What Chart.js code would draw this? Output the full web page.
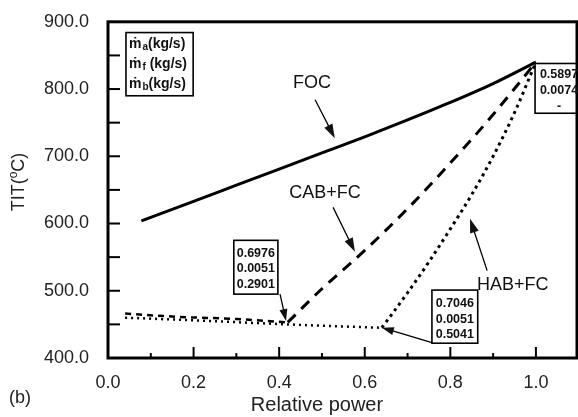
<!DOCTYPE html>
<html lang="en">
<head>
    <meta charset="UTF-8">
    <title>TIT vs relative power</title>
    <script src="https://cdn.jsdelivr.net/npm/chart.js"></script>
    <style>
        html, body { margin: 0; padding: 0; background: #fff; }
        #wrap { width: 578px; height: 417px; }
    </style>
</head>
<body>
    <div id="wrap"><canvas id="myChart" width="578" height="417"></canvas></div>
<script>
    // values
    const focX = [0.078, 0.2, 0.3, 0.4, 0.5, 0.6, 0.7, 0.8, 0.9, 1.0]
    const focY = [604, 633, 657, 681, 705, 729, 754, 780, 808, 840]

    const cabLowX = [0.04, 0.17, 0.3, 0.42]
    const cabLowY = [466, 461, 458, 453]
    const cabHighX = [0.42, 0.5, 0.6, 0.7, 0.8, 0.9, 1.0]
    const cabHighY = [453, 503, 560, 622, 690, 762, 840]

    const habLowX = [0.04, 0.2, 0.42, 0.5, 0.64]
    const habLowY = [460, 456, 450, 448, 445]
    const habHighX = [0.64, 0.7, 0.75, 0.8, 0.85, 0.9, 0.95, 1.0]
    const habHighY = [445, 497, 543, 592, 643, 700, 765, 840]

    const xTicks = [0, 0.2, 0.4, 0.6, 0.8, 1.0]
    const yTicks = [400, 500, 600, 700, 800, 900]

    const boxCAB = ['0.6976', '0.0051', '0.2901']
    const boxHAB = ['0.7046', '0.0051', '0.5041']
    const boxFOC = ['0.5897', '0.0074', '-']
    const legendRows = [['a', '(kg/s)'], ['f', ' (kg/s)'], ['b', '(kg/s)']]

    function pts(xs, ys) {
        return xs.map((v, i) => ({ x: v, y: ys[i] }))
    }

    function arrow(ctx, x1, y1, x2, y2, len, w) {
        const ang = Math.atan2(y2 - y1, x2 - x1)
        ctx.beginPath()
        ctx.moveTo(x1, y1)
        ctx.lineTo(x2 - Math.cos(ang) * len * 0.8, y2 - Math.sin(ang) * len * 0.8)
        ctx.stroke()
        ctx.beginPath()
        ctx.moveTo(x2, y2)
        ctx.lineTo(x2 - Math.cos(ang) * len - Math.sin(ang) * w, y2 - Math.sin(ang) * len + Math.cos(ang) * w)
        ctx.lineTo(x2 - Math.cos(ang) * len + Math.sin(ang) * w, y2 - Math.sin(ang) * len - Math.cos(ang) * w)
        ctx.closePath()
        ctx.fill()
    }

    function valueBox(ctx, x, y, b, rows, offs) {
        const l = x.getPixelForValue(b[0]), r = x.getPixelForValue(b[1])
        const t = y.getPixelForValue(b[2]), btm = y.getPixelForValue(b[3])
        ctx.lineWidth = 1.6
        ctx.strokeRect(l, t, r - l, btm - t)
        ctx.font = 'bold 12.5px "Liberation Sans", Arial, sans-serif'
        ctx.textAlign = 'center'
        ctx.textBaseline = 'middle'
        rows.forEach((s, i) => ctx.fillText(s, (l + r) / 2, t + offs[i]))
    }

    const decor = {
        id: 'decor',
        afterDraw(chart) {
            const { ctx, chartArea: a, scales: { x, y } } = chart
            ctx.save()
            ctx.strokeStyle = '#000'
            ctx.fillStyle = '#111'

            // frame
            ctx.lineWidth = 3
            ctx.strokeRect(a.left, a.top, a.right - a.left, a.bottom - a.top)

            // inward ticks
            ctx.lineWidth = 2
            for (let v = 450; v < 900; v += 50) {
                const py = y.getPixelForValue(v)
                ctx.beginPath(); ctx.moveTo(a.left, py); ctx.lineTo(a.left + 12, py); ctx.stroke()
            }
            for (let k = 1; k <= 10; k++) {
                const px = x.getPixelForValue(k / 10)
                const len = k % 2 === 0 ? 11 : 5
                ctx.beginPath(); ctx.moveTo(px, a.bottom); ctx.lineTo(px, a.bottom - len); ctx.stroke()
            }

            // legend box of mass flows
            const lb = [0.042, 0.199, 884, 790]
            const ll = x.getPixelForValue(lb[0]), lr = x.getPixelForValue(lb[1])
            const lt = y.getPixelForValue(lb[2]), lbm = y.getPixelForValue(lb[3])
            ctx.lineWidth = 1.6
            ctx.strokeRect(ll, lt, lr - ll, lbm - lt)
            ctx.textAlign = 'left'
            ctx.textBaseline = 'middle'
            legendRows.forEach((row, i) => {
                const ty = lt + 12 + i * 20
                let tx = ll + 3
                ctx.font = 'bold 14px "Liberation Sans", "DejaVu Sans", Arial, sans-serif'
                ctx.fillText('\u1E41', tx, ty)
                tx += ctx.measureText('\u1E41').width + 1
                ctx.font = 'bold 10px "Liberation Sans", Arial, sans-serif'
                ctx.fillText(row[0], tx, ty + 3)
                tx += ctx.measureText(row[0]).width
                ctx.font = 'bold 14px "Liberation Sans", Arial, sans-serif'
                ctx.fillText(row[1], tx, ty)
            })

            // value boxes
            valueBox(ctx, x, y, [0.294, 0.397, 575, 495], boxCAB, [13, 28.5, 44])
            valueBox(ctx, x, y, [0.757, 0.864, 501, 422], boxHAB, [13.5, 29, 44.5])
            valueBox(ctx, x, y, [0.998, 1.11, 838, 764], boxFOC, [11, 27, 43])

            // curve labels
            ctx.font = '18px "Liberation Sans", Arial, sans-serif'
            ctx.textAlign = 'center'
            ctx.fillText('FOC', x.getPixelForValue(0.477), y.getPixelForValue(809))
            ctx.fillText('CAB+FC', x.getPixelForValue(0.507), y.getPixelForValue(646))
            ctx.fillText('HAB+FC', x.getPixelForValue(0.946), y.getPixelForValue(508))

            // arrows
            ctx.lineWidth = 1.3
            const arr = [
                [0.484, 784, 0.530, 727, 14, 4.5],
                [0.526, 624, 0.577, 558, 14, 4.5],
                [0.886, 530, 0.846, 607, 14, 4.5],
                [0.402, 495, 0.416, 455, 12, 4],
                [0.757, 423, 0.640, 445, 12, 4]
            ]
            arr.forEach(q => arrow(ctx, x.getPixelForValue(q[0]), y.getPixelForValue(q[1]),
                x.getPixelForValue(q[2]), y.getPixelForValue(q[3]), q[4], q[5]))

            // axis titles
            ctx.fillStyle = '#222'
            ctx.font = '20px "Liberation Sans", Arial, sans-serif'
            ctx.textAlign = 'center'
            ctx.textBaseline = 'alphabetic'
            ctx.fillText('Relative power', 317, 411)
            ctx.textAlign = 'left'
            ctx.font = '18px "Liberation Sans", Arial, sans-serif'
            ctx.fillText('(b)', 9, 403)

            ctx.translate(24, 182)
            ctx.rotate(-Math.PI / 2)
            const p1 = 'TIT(', p3 = 'C)'
            ctx.font = '18px "Liberation Sans", Arial, sans-serif'
            const w1 = ctx.measureText(p1).width, w3 = ctx.measureText(p3).width
            ctx.font = '12px "Liberation Sans", Arial, sans-serif'
            const w2 = ctx.measureText('o').width
            let sx = -(w1 + w2 + w3) / 2
            ctx.font = '18px "Liberation Sans", Arial, sans-serif'
            ctx.fillText(p1, sx, 0)
            sx += w1
            ctx.font = '12px "Liberation Sans", Arial, sans-serif'
            ctx.fillText('o', sx, -7)
            sx += w2
            ctx.font = '18px "Liberation Sans", Arial, sans-serif'
            ctx.fillText(p3, sx, 0)
            ctx.restore()
        }
    }

    const lineBase = { pointRadius: 0, borderColor: '#000', fill: false, cubicInterpolationMode: 'monotone' }

    const dados = {
        datasets: [
            Object.assign({ label: 'FOC', data: pts(focX, focY), borderWidth: 3 }, lineBase),
            Object.assign({ label: 'CAB+FC', data: pts(cabHighX, cabHighY), borderWidth: 3, borderDash: [11, 8] }, lineBase),
            Object.assign({ label: 'CAB+FC low', data: pts(cabLowX, cabLowY), borderWidth: 2.5, borderDash: [6, 5] }, lineBase),
            Object.assign({ label: 'HAB+FC', data: pts(habHighX, habHighY), borderWidth: 3, borderDash: [3, 4] }, lineBase),
            Object.assign({ label: 'HAB+FC low', data: pts(habLowX, habLowY), borderWidth: 2.5, borderDash: [2, 4] }, lineBase)
        ]
    }

    const config = {
        type: 'line',
        data: dados,
        plugins: [decor],
        options: {
            responsive: false,
            animation: false,
            layout: { padding: { top: 12, right: 1, left: 0, bottom: 0 } },
            plugins: { legend: { display: false }, tooltip: { enabled: false } },
            scales: {
                x: {
                    type: 'linear',
                    min: 0,
                    max: 1.096,
                    grid: { display: false },
                    border: { display: false },
                    afterBuildTicks: s => { s.ticks = xTicks.map(v => ({ value: v })) },
                    afterFit: s => { s.height = 59 },
                    ticks: {
                        padding: 6,
                        color: '#222',
                        font: { family: '"Liberation Sans", Arial, sans-serif', size: 18 },
                        callback: v => Number(v).toFixed(1)
                    }
                },
                y: {
                    min: 400,
                    max: 900,
                    grid: { display: false },
                    border: { display: false },
                    afterBuildTicks: s => { s.ticks = yTicks.map(v => ({ value: v })) },
                    afterFit: s => { s.width = 108 },
                    ticks: {
                        padding: 11,
                        color: '#222',
                        font: { family: '"Liberation Sans", Arial, sans-serif', size: 18 },
                        callback: v => Number(v).toFixed(1)
                    }
                }
            }
        }
    }

    let myChart = new Chart(document.getElementById('myChart'), config)
</script>
</body>
</html>
